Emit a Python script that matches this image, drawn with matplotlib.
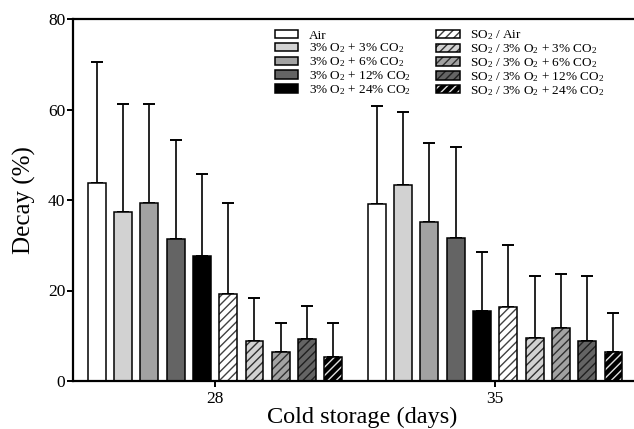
import matplotlib
matplotlib.use('Agg')
import matplotlib.pyplot as plt
from matplotlib.patches import Patch
from matplotlib.legend_handler import HandlerTuple
import numpy as np

plt.rcParams['font.family'] = ['Liberation Serif', 'DejaVu Serif']
plt.rcParams['mathtext.fontset'] = 'custom'
plt.rcParams['mathtext.rm'] = 'Liberation Serif'
plt.rcParams['hatch.linewidth'] = 1.0

days = ['28', '35']
treatments = ['Air',
              r'3% O$\mathregular{_2}$ + 3% CO$\mathregular{_2}$',
              r'3% O$\mathregular{_2}$ + 6% CO$\mathregular{_2}$',
              r'3% O$\mathregular{_2}$ + 12% CO$\mathregular{_2}$',
              r'3% O$\mathregular{_2}$ + 24% CO$\mathregular{_2}$',
              r'SO$\mathregular{_2}$ / Air',
              r'SO$\mathregular{_2}$ / 3% O$\mathregular{_2}$ + 3% CO$\mathregular{_2}$',
              r'SO$\mathregular{_2}$ / 3% O$\mathregular{_2}$ + 6% CO$\mathregular{_2}$',
              r'SO$\mathregular{_2}$ / 3% O$\mathregular{_2}$ + 12% CO$\mathregular{_2}$',
              r'SO$\mathregular{_2}$ / 3% O$\mathregular{_2}$ + 24% CO$\mathregular{_2}$']

# decay (%) per treatment, one list per storage time
decay_28 = [43.8, 37.3, 39.3, 31.3, 27.6, 19.2, 8.8, 6.3, 9.3, 5.2]
decay_35 = [39.2, 43.3, 35.1, 31.7, 15.5, 16.4, 9.6, 11.7, 8.8, 6.3]
err_28 = [26.8, 24.0, 22.0, 22.0, 18.1, 20.2, 9.5, 6.5, 7.3, 7.6]
err_35 = [21.5, 16.2, 17.4, 20.1, 13.1, 13.7, 13.7, 12.0, 14.5, 8.7]

fills = ['#ffffff', '#d2d2d2', '#a2a2a2', '#646464', '#000000'] * 2
hatch_cols = [None] * 5 + ['#404040', '#303030', '#303030', '#202020', '#e0e0e0']

fig = plt.figure(figsize=(6.34, 4.29), dpi=100)
ax = fig.add_axes([73 / 634, 1 - 381 / 429, 1 - 73 / 634, 362 / 429])

group_x = np.array([0.0, 10.65])
width = 0.68
handles = []
for i in range(10):
    xs = group_x + (i - 4.5)
    vals = [decay_28[i], decay_35[i]]
    errs = [err_28[i], err_35[i]]
    ax.errorbar(xs, vals, yerr=[[0, 0], errs], fmt='none', ecolor='black',
                elinewidth=1.2, capsize=4, capthick=1.4, zorder=1)
    if hatch_cols[i] is None:
        ax.bar(xs, vals, width, color=fills[i], edgecolor='black', linewidth=1.1, zorder=2)
        handles.append(Patch(facecolor=fills[i], edgecolor='black', linewidth=1.1))
    else:
        ax.bar(xs, vals, width, color=fills[i], edgecolor=hatch_cols[i], hatch='////',
               linewidth=0, zorder=2)
        ax.bar(xs, vals, width, fill=False, edgecolor='black', linewidth=1.1, zorder=3)
        handles.append((Patch(facecolor=fills[i], edgecolor=hatch_cols[i], hatch='////', linewidth=0),
                        Patch(fill=False, edgecolor='black', linewidth=1.1)))

ax.set_xlim(-5.4, 15.93)
ax.set_ylim(0, 80)
ax.set_yticks([0, 20, 40, 60, 80])
ax.set_xticks(group_x)
ax.set_xticklabels(days)
ax.tick_params(axis='both', labelsize=12.5, width=1.4, length=4, direction='out')
ax.tick_params(axis='y', pad=1.5)
ax.tick_params(axis='x', pad=3)
for s in ['left', 'bottom', 'top']:
    ax.spines[s].set_linewidth(1.6)
ax.spines['right'].set_visible(False)

ax.set_ylabel('Decay (%)', fontsize=18)
ax.yaxis.set_label_coords(-0.066, 0.5)
ax.set_xlabel('Cold storage (days)', fontsize=17.5)
ax.xaxis.set_label_coords((362 - 73) / 561, -0.072)

ax.legend(handles, treatments, ncol=2, loc='upper left', frameon=False,
          bbox_to_anchor=(268 / 634, 1 - 22 / 429), bbox_transform=fig.transFigure,
          fontsize=9.5, borderpad=0, labelspacing=0.0, handlelength=1.8, handleheight=0.6,
          handletextpad=0.8, columnspacing=1.9,
          handler_map={tuple: HandlerTuple(ndivide=1)})

fig.savefig('out.png', dpi=100)
